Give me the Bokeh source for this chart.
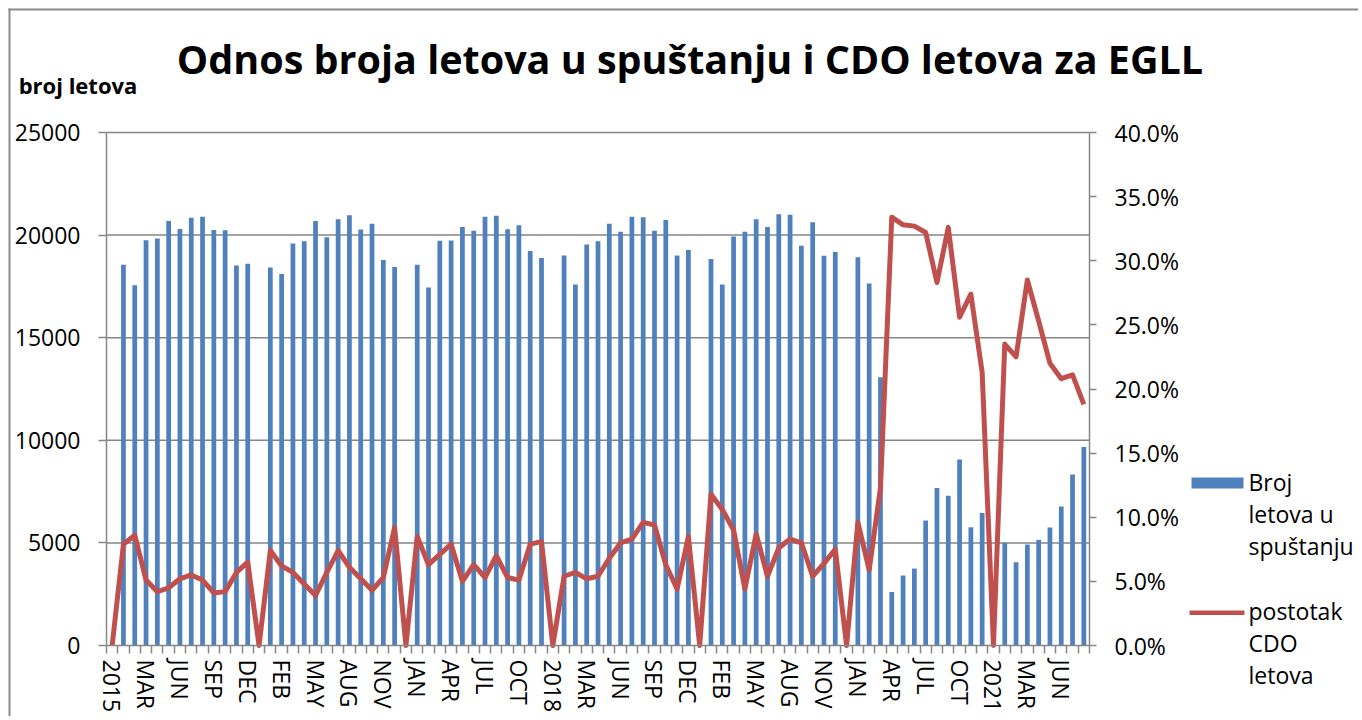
from bokeh.plotting import figure
from bokeh.models import (Range1d, LinearAxis, FixedTicker, PrintfTickFormatter,
                          Label, BoxAnnotation, ColumnDataSource)
from bokeh.embed import file_html
from bokeh.resources import INLINE

# ---------------- data ----------------
months = ["JAN", "FEB", "MAR", "APR", "MAY", "JUN", "JUL", "AUG", "SEP", "OCT", "NOV", "DEC"]
years = ["2015", "2016", "2017", "2018", "2019", "2020", "2021"]
categories = []
for yr in years:
    categories.append(yr)
    categories.extend(months)
categories = categories[:87]  # last month: AUG 2021

# Broj letova u spuštanju (number of descending flights)
flights = [0, 18550, 17550, 19750, 19830, 20690, 20300, 20840, 20900, 20250, 20240, 18520, 18600,
           0, 18420, 18100, 19590, 19700, 20690, 19900, 20770, 20970, 20270, 20550, 18790, 18450,
           0, 18550, 17450, 19720, 19740, 20400, 20210, 20890, 20940, 20290, 20480, 19220, 18880,
           0, 19000, 17590, 19540, 19700, 20550, 20160, 20890, 20870, 20210, 20730, 19000, 19270,
           0, 18830, 17590, 19930, 20160, 20770, 20400, 21020, 20990, 19480, 20630, 18990, 19180,
           0, 18920, 17640, 13070, 2610, 3410, 3750, 6090, 7680, 7300, 9060, 5760, 6460,
           0, 5000, 4060, 4920, 5150, 5750, 6770, 8330, 9670]

# postotak CDO letova (percent)
cdo_pct = [0, 7.9, 8.6, 5.1, 4.2, 4.5, 5.2, 5.5, 5.1, 4.1, 4.2, 5.7, 6.5,
           0, 7.4, 6.2, 5.7, 4.8, 3.9, 5.7, 7.4, 6.1, 5.2, 4.3, 5.3, 9.2,
           0, 8.5, 6.3, 7.1, 7.9, 5.0, 6.3, 5.3, 7.0, 5.3, 5.1, 7.9, 8.1,
           0, 5.4, 5.7, 5.2, 5.4, 6.8, 8.0, 8.3, 9.6, 9.4, 6.3, 4.4, 8.5,
           0, 11.8, 10.6, 9.0, 4.4, 8.7, 5.4, 7.6, 8.3, 8.0, 5.4, 6.4, 7.5,
           0, 9.6, 5.9, 12.3, 33.4, 32.8, 32.7, 32.2, 28.3, 32.6, 25.6, 27.4, 21.3,
           0, 23.5, 22.5, 28.5, 25.3, 22.0, 20.8, 21.1, 18.8]

left_ticks = [0, 5000, 10000, 15000, 20000, 25000]
right_ticks = [0, 5, 10, 15, 20, 25, 30, 35, 40]

title_text = "Odnos broja letova u spuštanju i CDO letova za EGLL"
y_title = "broj letova"
legend_bar = ["Broj", "letova u", "spuštanju"]
legend_line = ["postotak", "CDO", "letova"]

# ---------------- styling / layout ----------------
FONT = "Open Sans"
GRAY = "#868686"
BLUE = "#4F81BD"
RED = "#C0504D"

n = len(categories)
W, H = 1358, 716
PL, PR, PT, PB = 106, 1089, 132, 645          # plot-area edges in canvas px
YMAX, PMAX = left_ticks[-1], right_ticks[-1]
sx = (PR - PL) / n                              # px per category
sy = (PB - PT) / YMAX                           # px per flight
sp = (PB - PT) / PMAX                           # px per percent

# the frame covers the whole canvas; axes are pinned with fixed_location
x_range = Range1d(-0.5 - PL / sx, -0.5 + (W - PL) / sx)
y_range = Range1d(-(H - PB) / sy, YMAX + PT / sy)
p_range = Range1d(-(H - PB) / sp, PMAX + PT / sp)


def cx(px):
    return -0.5 + (px - PL) / sx


def cy(py):
    return (PB - py) / sy


p = figure(width=W, height=H, output_backend="svg", toolbar_location=None, title=None,
           x_range=x_range, y_range=y_range,
           min_border_left=0, min_border_right=0, min_border_top=0, min_border_bottom=0)
p.extra_y_ranges = {"pct": p_range}
p.outline_line_color = None
p.background_fill_color = "white"
p.border_fill_color = "white"
p.xgrid.visible = False
p.ygrid.visible = False

src = ColumnDataSource(dict(x=list(range(n)), flights=flights, cdo=cdo_pct))
grid_src = ColumnDataSource(dict(y=left_ticks[1:]))

# horizontal grid lines between the two axes
p.segment(x0=-0.5, x1=n - 0.5, y0="y", y1="y", source=grid_src,
          line_color=GRAY, line_width=1.5, level="underlay")

# bars and line
bars = p.vbar(x="x", top="flights", width=0.42, source=src, fill_color=BLUE, line_color=None)
cdo_line = p.line(x="x", y="cdo", source=src, y_range_name="pct", line_color=RED,
                  line_width=5, line_join="round")


def style_axis(ax, tick_out, standoff):
    ax.major_tick_out = tick_out
    ax.major_tick_in = 0
    ax.major_tick_line_color = GRAY
    ax.major_tick_line_width = 1.5
    ax.axis_line_color = GRAY
    ax.axis_line_width = 1.5
    ax.major_label_standoff = standoff
    ax.major_label_text_font = FONT
    ax.major_label_text_font_size = "23px"
    ax.major_label_text_color = "black"


# x axis
label_ticks = list(range(0, n, 3))
xa = p.xaxis[0]
xa.ticker = FixedTicker(ticks=label_ticks, minor_ticks=[i - 0.5 for i in range(n + 1)])
xa.major_label_overrides = {t: categories[t] for t in label_ticks}
xa.major_label_orientation = "vertical"
style_axis(xa, 0, 6)
xa.minor_tick_out = 8
xa.minor_tick_in = 0
xa.minor_tick_line_color = GRAY
xa.minor_tick_line_width = 1.5
xa.bounds = (-0.5, n - 0.5)
xa.fixed_location = 0

# left axis
ya = p.yaxis[0]
ya.ticker = FixedTicker(ticks=left_ticks)
ya.formatter = PrintfTickFormatter(format="%d")
style_axis(ya, 8, 18)
ya.minor_tick_line_color = None
ya.bounds = (0, YMAX)
ya.fixed_location = -0.5

# right axis
ra = LinearAxis(y_range_name="pct", ticker=FixedTicker(ticks=right_ticks),
                formatter=PrintfTickFormatter(format="%.1f%%"))
style_axis(ra, 7, 18)
ra.minor_tick_line_color = None
ra.bounds = (0, PMAX)
ra.fixed_location = n - 0.5
p.add_layout(ra, "right")

# title and y caption
p.add_layout(Label(x=cx(689.5), y=cy(58), text=title_text, text_font=FONT,
                   text_font_style="bold", text_font_size="39.5px", text_align="center",
                   text_baseline="middle", text_color="black"))
p.add_layout(Label(x=cx(77.5), y=cy(84), text=y_title, text_font=FONT,
                   text_font_style="bold", text_font_size="22px", text_align="center",
                   text_baseline="middle", text_color="black"))

# legend (wrapped labels)
p.add_layout(BoxAnnotation(left=cx(1191), right=cx(1243), top=cy(477), bottom=cy(488),
                           fill_color=BLUE, fill_alpha=1.0, line_color=None))
p.add_layout(BoxAnnotation(left=cx(1189), right=cx(1244), top=cy(610), bottom=cy(614.5),
                           fill_color=RED, fill_alpha=1.0, line_color=None))
for i, t in enumerate(legend_bar):
    p.add_layout(Label(x=cx(1248), y=cy(481 + 32.3 * i), text=t, text_font=FONT,
                       text_font_size="23px", text_baseline="middle", text_color="black"))
for i, t in enumerate(legend_line):
    p.add_layout(Label(x=cx(1248), y=cy(610 + 32.3 * i), text=t, text_font=FONT,
                       text_font_size="23px", text_baseline="middle", text_color="black"))

# chart frame (left and top edges visible)
p.add_layout(BoxAnnotation(left=cx(8), right=cx(10), top=cy(8), bottom=cy(H + 5),
                           fill_color="#8a8a8a", fill_alpha=1.0, line_color=None))
p.add_layout(BoxAnnotation(left=cx(8), right=cx(W + 5), top=cy(8), bottom=cy(10),
                           fill_color="#8a8a8a", fill_alpha=1.0, line_color=None))

open("out.html", "w").write(file_html(p, INLINE))
